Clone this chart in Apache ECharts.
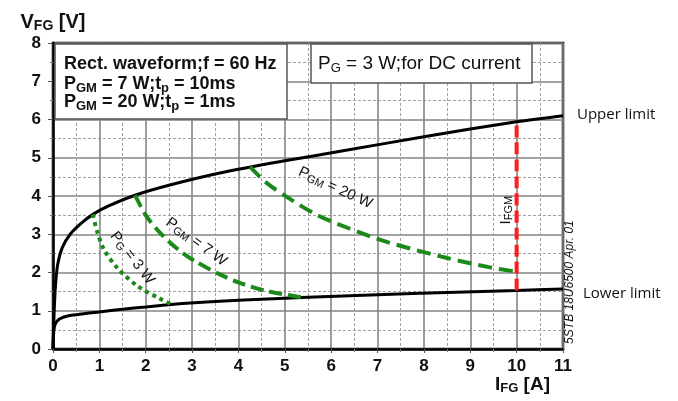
<!DOCTYPE html>
<html>
<head>
<meta charset="utf-8">
<script src="https://cdn.jsdelivr.net/npm/echarts@6/dist/echarts.min.js"></script>
<style>
  html, body { margin: 0; padding: 0; background: #fff; }
  #chart { width: 678px; height: 401px; }
</style>
</head>
<body>
<div id="chart"></div>
<script>
'use strict';

// [I_FG (A), V_FG (V)]
var upperLimit = [[0, 0], [0.02, 0.8], [0.05, 1.6], [0.1, 2.2], [0.2, 2.65], [0.37, 3.0], [0.6, 3.28],
  [0.86, 3.52], [1.2, 3.74], [1.77, 4.02], [2.5, 4.28], [3.6, 4.6], [5, 4.92], [6.35, 5.2],
  [8, 5.55], [10, 5.94], [11, 6.1]];
var lowerLimit = [[0, 0], [0.01, 0.35], [0.03, 0.58], [0.08, 0.72], [0.2, 0.82], [0.4, 0.88],
  [0.7, 0.93], [1, 0.97], [1.5, 1.04], [2, 1.1], [2.5, 1.16], [3.5, 1.24], [4.5, 1.3],
  [5.5, 1.35], [7, 1.42], [8.5, 1.48], [10, 1.53], [11, 1.57]];
var pg3w = [[0.86, 3.52], [0.95, 3.08], [1.1, 2.6], [1.4, 2.1], [1.84, 1.63], [2.3, 1.32], [2.55, 1.17]];
var pgm7w = [[1.77, 4.02], [2.0, 3.5], [2.3, 3.05], [2.7, 2.6], [3.1, 2.27], [3.6, 1.95], [4.0, 1.74],
  [4.6, 1.52], [5.4, 1.34]];
var pgm20w = [[4.25, 4.76], [4.6, 4.35], [5.05, 3.97], [5.7, 3.5], [6.35, 3.17], [7.2, 2.8],
  [8.5, 2.38], [9.4, 2.14], [10, 2.02]];
var ifgm = [[10, 1.53], [10, 5.94]];

var xTicks = [0, 1, 2, 3, 4, 5, 6, 7, 8, 9, 10, 11];
var yTicks = [0, 1, 2, 3, 4, 5, 6, 7, 8];

var FONT = '"Liberation Sans", Arial, sans-serif';
var GREEN = '#1b8a1b';

var chart = echarts.init(document.getElementById('chart'));

function curve(data, color, width, dash) {
  return {
    type: 'line',
    data: data,
    smooth: 0.3,
    symbol: 'none',
    silent: true,
    lineStyle: {color: color, width: width, type: dash || 'solid', cap: 'butt'},
    z: 5
  };
}

var option = {
  animation: false,
  backgroundColor: '#fff',
  grid: {
    left: 53, right: 115, top: 43, bottom: 52,
    show: true, borderColor: '#000', borderWidth: 2.5
  },
  xAxis: {
    type: 'value',
    min: xTicks[0], max: xTicks[xTicks.length - 1], interval: 1,
    axisLine: {show: true, onZero: false, lineStyle: {color: '#000', width: 2.5}},
    axisTick: {show: true, length: 4, lineStyle: {color: '#555'}},
    minorTick: {show: true, splitNumber: 2, length: 3, lineStyle: {color: '#777'}},
    axisLabel: {fontFamily: FONT, fontSize: 17, fontWeight: 'bold', color: '#111', margin: 9},
    splitLine: {show: true, lineStyle: {color: '#858585', width: 1.6}},
    minorSplitLine: {show: true, lineStyle: {color: '#a0a0a0', width: 1, type: [3, 2]}}
  },
  yAxis: {
    type: 'value',
    min: yTicks[0], max: yTicks[yTicks.length - 1], interval: 1,
    name: 'V{s|FG} [V]',
    nameLocation: 'end',
    nameGap: 10,
    nameTextStyle: {
      fontFamily: FONT, fontSize: 20, fontWeight: 'bold', color: '#111',
      rich: {s: {fontFamily: FONT, fontSize: 14, fontWeight: 'bold', color: '#111', verticalAlign: 'bottom', padding: [8, 0, 0, 0]}}
    },
    axisLine: {show: true, onZero: false, lineStyle: {color: '#000', width: 2.5}},
    axisTick: {show: true, length: 5, lineStyle: {color: '#555'}},
    minorTick: {show: true, splitNumber: 2, length: 3, lineStyle: {color: '#777'}},
    axisLabel: {fontFamily: FONT, fontSize: 17, fontWeight: 'bold', color: '#111', margin: 12},
    splitLine: {show: true, lineStyle: {color: '#858585', width: 1.6}},
    minorSplitLine: {show: true, lineStyle: {color: '#a0a0a0', width: 1, type: [3, 2]}}
  },
  series: [
    curve(upperLimit, '#000', 3),
    curve(lowerLimit, '#000', 3),
    curve(pg3w, GREEN, 4, [4, 4]),
    curve(pgm7w, GREEN, 4, [13, 6]),
    curve(pgm20w, GREEN, 4, [14, 7]),
    curve(ifgm, '#ff1c1c', 4, [12, 5])
  ]
};
chart.setOption(option);

// annotations placed from data coordinates
function px(i, v) {
  return chart.convertToPixel({gridIndex: 0}, [i, v]);
}
var subRich = {
  s: {fontFamily: FONT, fontSize: 11, fill: '#111', verticalAlign: 'bottom', padding: [6, 0, 0, 0]}
};
function curveLabel(text, at, deg) {
  var p = px(at[0], at[1]);
  return {
    type: 'text', x: p[0], y: p[1], rotation: -deg * Math.PI / 180, z: 20,
    style: {text: text, fontFamily: FONT, fontSize: 15, fill: '#111', align: 'center', verticalAlign: 'middle', rich: subRich}
  };
}

var boldRich = {
  s: {fontFamily: FONT, fontSize: 13, fontWeight: 'bold', fill: '#111', verticalAlign: 'bottom', padding: [8, 0, 0, 0]}
};
var normRich = {
  s: {fontFamily: FONT, fontSize: 13, fill: '#111', verticalAlign: 'bottom', padding: [8, 0, 0, 0]}
};

var p11 = px(11, 0);
var pUp = px(11, 6.1);
var pLo = px(11, 1.57);
var pTag = px(11, 1.75);

chart.setOption({
  graphic: [
    {
      type: 'rect', z: 10,
      shape: {x: 55, y: 44, width: 232, height: 75},
      style: {fill: '#fff', stroke: '#555', lineWidth: 1.5}
    },
    {
      type: 'text', z: 11, x: 64, y: 64,
      style: {text: 'Rect. waveform;f = 60 Hz', fontFamily: FONT, fontSize: 18, fontWeight: 'bold', fill: '#111', verticalAlign: 'middle'}
    },
    {
      type: 'text', z: 11, x: 64, y: 84,
      style: {text: 'P{s|GM} = 7 W;t{s|p} = 10ms', fontFamily: FONT, fontSize: 18, fontWeight: 'bold', fill: '#111', verticalAlign: 'middle', rich: boldRich}
    },
    {
      type: 'text', z: 11, x: 64, y: 102,
      style: {text: 'P{s|GM} = 20 W;t{s|p} = 1ms', fontFamily: FONT, fontSize: 18, fontWeight: 'bold', fill: '#111', verticalAlign: 'middle', rich: boldRich}
    },
    {
      type: 'rect', z: 10,
      shape: {x: 311, y: 44, width: 221, height: 39},
      style: {fill: '#fff', stroke: '#555', lineWidth: 1.5}
    },
    {
      type: 'text', z: 11, x: 318, y: 64,
      style: {text: 'P{s|G} = 3 W;for DC current', fontFamily: FONT, fontSize: 19, fill: '#111', verticalAlign: 'middle', rich: normRich}
    },
    curveLabel('P{s|GM} = 20 W', [6.09, 4.21], 25),
    curveLabel('P{s|GM} = 7 W', [3.09, 2.8], 36),
    curveLabel('P{s|G} = 3 W', [1.71, 2.38], 52),
    {
      type: 'text', z: 20, x: px(9.76, 3.63)[0], y: px(9.76, 3.63)[1], rotation: Math.PI / 2,
      style: {text: 'I{s|FGM}', fontFamily: FONT, fontSize: 15, fill: '#111', align: 'center', verticalAlign: 'middle', rich: subRich}
    },
    {
      type: 'text', z: 20, x: p11[0] + 7, y: pTag[1], rotation: Math.PI / 2,
      style: {text: '5STB 18U6500 Apr. 01', fontFamily: FONT, fontSize: 12, fontStyle: 'italic', fill: '#111', align: 'center', verticalAlign: 'middle'}
    },
    {
      type: 'text', z: 20, x: p11[0] + 14, y: pUp[1] - 1,
      style: {text: 'Upper limit', fontFamily: '"Open Sans", sans-serif', fontSize: 15, fill: '#111', verticalAlign: 'middle'}
    },
    {
      type: 'text', z: 20, x: p11[0] + 20, y: pLo[1] + 5,
      style: {text: 'Lower limit', fontFamily: '"Open Sans", sans-serif', fontSize: 15, fill: '#111', verticalAlign: 'middle'}
    },
    {
      type: 'text', z: 20, x: 495, y: 374,
      style: {text: 'I{s|FG} [A]', fontFamily: FONT, fontSize: 19, fontWeight: 'bold', fill: '#111',
        rich: {s: {fontFamily: FONT, fontSize: 13, fontWeight: 'bold', fill: '#111', verticalAlign: 'bottom', padding: [8, 0, 0, 0]}}}
    }
  ]
});
</script>
</body>
</html>
